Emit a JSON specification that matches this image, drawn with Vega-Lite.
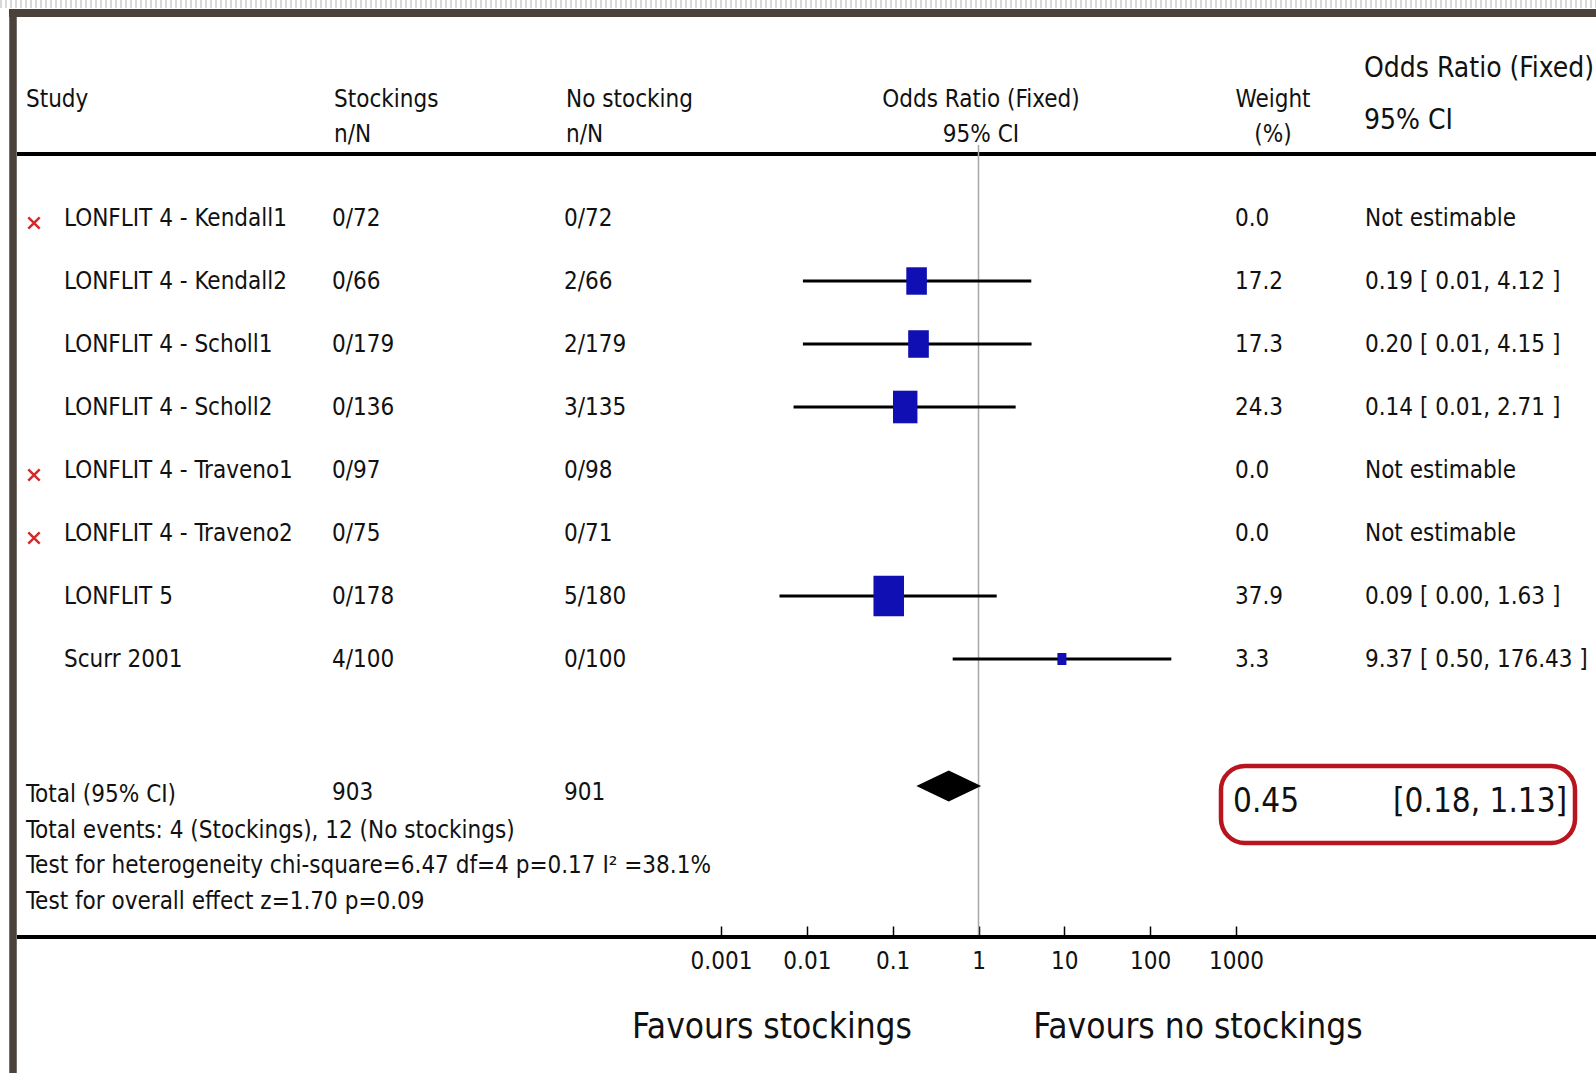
{
  "$schema": "https://vega.github.io/schema/vega-lite/v6.json",
  "width": 1596,
  "height": 1073,
  "autosize": "none",
  "padding": 0,
  "background": "white",
  "config": {
    "view": {"stroke": null},
    "text": {"font": "DejaVu Sans Condensed, DejaVu Sans, sans-serif", "fontSize": 24, "color": "#111111", "align": "left", "baseline": "middle"},
    "axis": {"labelFont": "DejaVu Sans Condensed, DejaVu Sans, sans-serif"}
  },
  "datasets": {
    "studies": [
      {"study": "LONFLIT 4 - Kendall1", "stock": "0/72", "nostock": "0/72", "w": 0.0, "ci": "Not estimable", "excluded": true},
      {"study": "LONFLIT 4 - Kendall2", "stock": "0/66", "nostock": "2/66", "w": 17.2, "ci": "0.19 [ 0.01, 4.12 ]", "or": 0.19, "lo": 0.009, "hi": 4.12, "excluded": false},
      {"study": "LONFLIT 4 - Scholl1", "stock": "0/179", "nostock": "2/179", "w": 17.3, "ci": "0.20 [ 0.01, 4.15 ]", "or": 0.20, "lo": 0.009, "hi": 4.15, "excluded": false},
      {"study": "LONFLIT 4 - Scholl2", "stock": "0/136", "nostock": "3/135", "w": 24.3, "ci": "0.14 [ 0.01, 2.71 ]", "or": 0.14, "lo": 0.007, "hi": 2.71, "excluded": false},
      {"study": "LONFLIT 4 - Traveno1", "stock": "0/97", "nostock": "0/98", "w": 0.0, "ci": "Not estimable", "excluded": true},
      {"study": "LONFLIT 4 - Traveno2", "stock": "0/75", "nostock": "0/71", "w": 0.0, "ci": "Not estimable", "excluded": true},
      {"study": "LONFLIT 5", "stock": "0/178", "nostock": "5/180", "w": 37.9, "ci": "0.09 [ 0.00, 1.63 ]", "or": 0.09, "lo": 0.0048, "hi": 1.63, "excluded": false},
      {"study": "Scurr 2001", "stock": "4/100", "nostock": "0/100", "w": 3.3, "ci": "9.37 [ 0.50, 176.43 ]", "or": 9.37, "lo": 0.50, "hi": 176.43, "excluded": false}
    ]
  },
  "resolve": {"scale": {"x": "independent", "y": "independent", "size": "independent"}},
  "layer": [
    {
      "data": {"values": [{"part": "top strip"}]},
      "mark": {"type": "rule", "color": "#d9d9d9", "strokeWidth": 8, "strokeDash": [2, 3]},
      "encoding": {
        "x": {"datum": "a", "type": "nominal", "scale": {"type": "point", "domain": ["a", "b"], "range": [0, 1596], "padding": 0}, "axis": null},
        "x2": {"datum": "b"},
        "y": {"datum": "s", "type": "nominal", "scale": {"type": "point", "range": [4, 4]}, "axis": null}
      }
    },
    {
      "data": {"values": [{"part": "top border"}]},
      "mark": {"type": "rule", "color": "#4a423c", "strokeWidth": 8},
      "encoding": {
        "x": {"datum": "a", "type": "nominal", "scale": {"type": "point", "domain": ["a", "b"], "range": [9, 1596], "padding": 0}, "axis": null},
        "x2": {"datum": "b"},
        "y": {"datum": "s", "type": "nominal", "scale": {"type": "point", "range": [13, 13]}, "axis": null}
      }
    },
    {
      "data": {"values": [{"part": "left border"}]},
      "mark": {"type": "rule", "color": "#4a423c", "strokeWidth": 7.5},
      "encoding": {
        "x": {"datum": "s", "type": "nominal", "scale": {"type": "point", "range": [13, 13]}, "axis": null},
        "y": {"datum": "a", "type": "nominal", "scale": {"type": "point", "domain": ["a", "b"], "range": [9, 1073], "padding": 0}, "axis": null},
        "y2": {"datum": "b"}
      }
    },
    {
      "data": {"values": [{"part": "header rule"}]},
      "mark": {"type": "rule", "color": "black", "strokeWidth": 4},
      "encoding": {
        "x": {"datum": "a", "type": "nominal", "scale": {"type": "point", "domain": ["a", "b"], "range": [17, 1596], "padding": 0}, "axis": null},
        "x2": {"datum": "b"},
        "y": {"datum": "s", "type": "nominal", "scale": {"type": "point", "range": [154, 154]}, "axis": null}
      }
    },
    {
      "data": {"values": [{"part": "bottom rule"}]},
      "mark": {"type": "rule", "color": "black", "strokeWidth": 4},
      "encoding": {
        "x": {"datum": "a", "type": "nominal", "scale": {"type": "point", "domain": ["a", "b"], "range": [17, 1596], "padding": 0}, "axis": null},
        "x2": {"datum": "b"},
        "y": {"datum": "s", "type": "nominal", "scale": {"type": "point", "range": [937, 937]}, "axis": null}
      }
    },
    {
      "data": {"values": [{"part": "no effect line"}]},
      "mark": {"type": "rule", "color": "#a8a8a8", "strokeWidth": 1.5},
      "encoding": {
        "x": {"datum": 1, "type": "quantitative", "scale": {"type": "log", "domain": [0.001, 1000], "range": [721, 1236], "nice": false},
          "axis": {"orient": "bottom", "offset": -137, "values": [0.001, 0.01, 0.1, 1, 10, 100, 1000], "format": "~g", "domain": false, "grid": false, "ticks": true, "tickSize": -10, "tickWidth": 1.5, "tickColor": "black", "labelFontSize": 24, "labelColor": "#111111", "labelPadding": 23, "labelFlush": false, "labelOverlap": false, "title": null}},
        "y": {"datum": "top", "type": "nominal", "scale": {"type": "point", "domain": ["top", "bottom"], "range": [145, 935], "padding": 0}, "axis": null},
        "y2": {"datum": "bottom"}
      }
    },
    {
      "data": {"name": "studies"},
      "transform": [{"filter": "isValid(datum.lo)"}],
      "mark": {"type": "rule", "color": "black", "strokeWidth": 3},
      "encoding": {
        "x": {"field": "lo", "type": "quantitative", "scale": {"type": "log", "domain": [0.001, 1000], "range": [721, 1236], "nice": false}, "axis": null},
        "x2": {"field": "hi"},
        "y": {"field": "study", "type": "nominal", "sort": null, "scale": {"type": "point", "domain": ["LONFLIT 4 - Kendall1", "LONFLIT 4 - Kendall2", "LONFLIT 4 - Scholl1", "LONFLIT 4 - Scholl2", "LONFLIT 4 - Traveno1", "LONFLIT 4 - Traveno2", "LONFLIT 5", "Scurr 2001"], "range": [218, 659], "padding": 0}, "axis": null}
      }
    },
    {
      "data": {"name": "studies"},
      "transform": [{"filter": "isValid(datum.or)"}],
      "mark": {"type": "point", "shape": "M-0.75,-1L0.75,-1L0.75,1L-0.75,1Z", "filled": true, "color": "#0f0fb4", "opacity": 1, "strokeWidth": 0},
      "encoding": {
        "x": {"field": "or", "type": "quantitative", "scale": {"type": "log", "domain": [0.001, 1000], "range": [721, 1236], "nice": false}, "axis": null},
        "y": {"field": "study", "type": "nominal", "sort": null, "scale": {"type": "point", "domain": ["LONFLIT 4 - Kendall1", "LONFLIT 4 - Kendall2", "LONFLIT 4 - Scholl1", "LONFLIT 4 - Scholl2", "LONFLIT 4 - Traveno1", "LONFLIT 4 - Traveno2", "LONFLIT 5", "Scurr 2001"], "range": [218, 659], "padding": 0}, "axis": null},
        "size": {"field": "w", "type": "quantitative", "scale": {"domain": [0, 40], "range": [0, 1750], "zero": true}, "legend": null}
      }
    },
    {
      "data": {"name": "studies"},
      "transform": [{"filter": "datum.excluded"}],
      "mark": {"type": "point", "shape": "M-1,-1L1,1M1,-1L-1,1", "filled": false, "color": "#d42a2a", "strokeWidth": 2.5, "size": 130, "opacity": 1, "yOffset": 5},
      "encoding": {
        "x": {"datum": "s", "type": "nominal", "scale": {"type": "point", "range": [34, 34]}, "axis": null},
        "y": {"field": "study", "type": "nominal", "sort": null, "scale": {"type": "point", "domain": ["LONFLIT 4 - Kendall1", "LONFLIT 4 - Kendall2", "LONFLIT 4 - Scholl1", "LONFLIT 4 - Scholl2", "LONFLIT 4 - Traveno1", "LONFLIT 4 - Traveno2", "LONFLIT 5", "Scurr 2001"], "range": [218, 659], "padding": 0}, "axis": null}
      }
    },
    {
      "data": {"name": "studies"},
      "mark": {"type": "text", "dy": 1},
      "encoding": {
        "x": {"datum": "s", "type": "nominal", "scale": {"type": "point", "range": [64, 64]}, "axis": null},
        "y": {"field": "study", "type": "nominal", "sort": null, "scale": {"type": "point", "domain": ["LONFLIT 4 - Kendall1", "LONFLIT 4 - Kendall2", "LONFLIT 4 - Scholl1", "LONFLIT 4 - Scholl2", "LONFLIT 4 - Traveno1", "LONFLIT 4 - Traveno2", "LONFLIT 5", "Scurr 2001"], "range": [218, 659], "padding": 0}, "axis": null},
        "text": {"field": "study"}
      }
    },
    {
      "data": {"name": "studies"},
      "transform": [{"fold": ["stock", "nostock"], "as": ["col", "val"]}],
      "mark": {"type": "text", "dy": 1},
      "encoding": {
        "x": {"field": "col", "type": "nominal", "scale": {"type": "point", "domain": ["stock", "nostock"], "range": [332, 564], "padding": 0}, "axis": null},
        "y": {"field": "study", "type": "nominal", "sort": null, "scale": {"type": "point", "domain": ["LONFLIT 4 - Kendall1", "LONFLIT 4 - Kendall2", "LONFLIT 4 - Scholl1", "LONFLIT 4 - Scholl2", "LONFLIT 4 - Traveno1", "LONFLIT 4 - Traveno2", "LONFLIT 5", "Scurr 2001"], "range": [218, 659], "padding": 0}, "axis": null},
        "text": {"field": "val"}
      }
    },
    {
      "data": {"name": "studies"},
      "mark": {"type": "text", "dy": 1},
      "encoding": {
        "x": {"datum": "s", "type": "nominal", "scale": {"type": "point", "range": [1235, 1235]}, "axis": null},
        "y": {"field": "study", "type": "nominal", "sort": null, "scale": {"type": "point", "domain": ["LONFLIT 4 - Kendall1", "LONFLIT 4 - Kendall2", "LONFLIT 4 - Scholl1", "LONFLIT 4 - Scholl2", "LONFLIT 4 - Traveno1", "LONFLIT 4 - Traveno2", "LONFLIT 5", "Scurr 2001"], "range": [218, 659], "padding": 0}, "axis": null},
        "text": {"field": "w", "type": "quantitative", "format": ".1f"}
      }
    },
    {
      "data": {"name": "studies"},
      "mark": {"type": "text", "dy": 1},
      "encoding": {
        "x": {"datum": "s", "type": "nominal", "scale": {"type": "point", "range": [1365, 1365]}, "axis": null},
        "y": {"field": "study", "type": "nominal", "sort": null, "scale": {"type": "point", "domain": ["LONFLIT 4 - Kendall1", "LONFLIT 4 - Kendall2", "LONFLIT 4 - Scholl1", "LONFLIT 4 - Scholl2", "LONFLIT 4 - Traveno1", "LONFLIT 4 - Traveno2", "LONFLIT 5", "Scurr 2001"], "range": [218, 659], "padding": 0}, "axis": null},
        "text": {"field": "ci"}
      }
    },
    {
      "data": {"values": [{"t": ["Study"]}]},
      "mark": {"type": "text", "baseline": "alphabetic"},
      "encoding": {
        "x": {"datum": "s", "type": "nominal", "scale": {"type": "point", "range": [26, 26]}, "axis": null},
        "y": {"datum": "s", "type": "nominal", "scale": {"type": "point", "range": [107, 107]}, "axis": null},
        "text": {"field": "t"}
      }
    },
    {
      "data": {"values": [{"col": "stock", "t": ["Stockings", "n/N"]}, {"col": "nostock", "t": ["No stocking", "n/N"]}]},
      "mark": {"type": "text", "baseline": "alphabetic", "lineHeight": 35},
      "encoding": {
        "x": {"field": "col", "type": "nominal", "scale": {"type": "point", "domain": ["stock", "nostock"], "range": [334, 566], "padding": 0}, "axis": null},
        "y": {"datum": "s", "type": "nominal", "scale": {"type": "point", "range": [107, 107]}, "axis": null},
        "text": {"field": "t"}
      }
    },
    {
      "data": {"values": [{"t": ["Odds Ratio (Fixed)", "95% CI"]}]},
      "mark": {"type": "text", "baseline": "alphabetic", "align": "center", "lineHeight": 35},
      "encoding": {
        "x": {"datum": "s", "type": "nominal", "scale": {"type": "point", "range": [981, 981]}, "axis": null},
        "y": {"datum": "s", "type": "nominal", "scale": {"type": "point", "range": [107, 107]}, "axis": null},
        "text": {"field": "t"}
      }
    },
    {
      "data": {"values": [{"t": ["Weight", "(%)"]}]},
      "mark": {"type": "text", "baseline": "alphabetic", "align": "center", "lineHeight": 35},
      "encoding": {
        "x": {"datum": "s", "type": "nominal", "scale": {"type": "point", "range": [1273, 1273]}, "axis": null},
        "y": {"datum": "s", "type": "nominal", "scale": {"type": "point", "range": [107, 107]}, "axis": null},
        "text": {"field": "t"}
      }
    },
    {
      "data": {"values": [{"t": ["Odds Ratio (Fixed)", "95% CI"]}]},
      "mark": {"type": "text", "baseline": "alphabetic", "fontSize": 28, "lineHeight": 52},
      "encoding": {
        "x": {"datum": "s", "type": "nominal", "scale": {"type": "point", "range": [1364, 1364]}, "axis": null},
        "y": {"datum": "s", "type": "nominal", "scale": {"type": "point", "range": [77, 77]}, "axis": null},
        "text": {"field": "t"}
      }
    },
    {
      "data": {"values": [{"t": ["Total (95% CI)", "Total events: 4 (Stockings), 12 (No stockings)", "Test for heterogeneity chi-square=6.47 df=4 p=0.17 I² =38.1%", "Test for overall effect z=1.70  p=0.09"]}]},
      "mark": {"type": "text", "baseline": "alphabetic", "lineHeight": 35.5},
      "encoding": {
        "x": {"datum": "s", "type": "nominal", "scale": {"type": "point", "range": [26, 26]}, "axis": null},
        "y": {"datum": "s", "type": "nominal", "scale": {"type": "point", "range": [802, 802]}, "axis": null},
        "text": {"field": "t"}
      }
    },
    {
      "data": {"values": [{"col": "stock", "n": 903}, {"col": "nostock", "n": 901}]},
      "mark": {"type": "text"},
      "encoding": {
        "x": {"field": "col", "type": "nominal", "scale": {"type": "point", "domain": ["stock", "nostock"], "range": [332, 564], "padding": 0}, "axis": null},
        "y": {"datum": "s", "type": "nominal", "scale": {"type": "point", "range": [793, 793]}, "axis": null},
        "text": {"field": "n", "type": "quantitative"}
      }
    },
    {
      "data": {"values": [{"label": "Total (95% CI)", "or": 0.45, "lo": 0.18, "hi": 1.13}]},
      "mark": {"type": "point", "shape": "M-1,0L0,-0.48L1,0L0,0.48Z", "filled": true, "color": "black", "opacity": 1, "size": 4200},
      "encoding": {
        "x": {"field": "or", "type": "quantitative", "scale": {"type": "log", "domain": [0.001, 1000], "range": [721, 1236], "nice": false}, "axis": null},
        "y": {"datum": "s", "type": "nominal", "scale": {"type": "point", "range": [786, 786]}, "axis": null}
      }
    },
    {
      "data": {"values": [{"part": "highlight box"}]},
      "mark": {"type": "rect", "filled": false, "fill": null, "stroke": "#b8151e", "strokeWidth": 4.5, "cornerRadius": 24},
      "encoding": {
        "x": {"datum": "l", "type": "nominal", "scale": {"type": "point", "domain": ["l", "r"], "range": [1221, 1575], "padding": 0}, "axis": null},
        "x2": {"datum": "r"},
        "y": {"datum": "t", "type": "nominal", "scale": {"type": "point", "domain": ["t", "b"], "range": [766, 843], "padding": 0}, "axis": null},
        "y2": {"datum": "b"}
      }
    },
    {
      "data": {"values": [{"k": "or", "t": "0.45"}, {"k": "ci", "t": "[0.18, 1.13]"}]},
      "mark": {"type": "text", "baseline": "alphabetic", "fontSize": 33},
      "encoding": {
        "x": {"field": "k", "type": "nominal", "scale": {"type": "point", "domain": ["or", "ci"], "range": [1233, 1393], "padding": 0}, "axis": null},
        "y": {"datum": "s", "type": "nominal", "scale": {"type": "point", "range": [812, 812]}, "axis": null},
        "text": {"field": "t"}
      }
    },
    {
      "data": {"values": [{"k": "a", "t": "Favours stockings"}, {"k": "b", "t": "Favours no stockings"}]},
      "mark": {"type": "text", "baseline": "alphabetic", "align": "center", "fontSize": 35},
      "encoding": {
        "x": {"field": "k", "type": "nominal", "scale": {"type": "point", "domain": ["a", "b"], "range": [772, 1198], "padding": 0}, "axis": null},
        "y": {"datum": "s", "type": "nominal", "scale": {"type": "point", "range": [1038, 1038]}, "axis": null},
        "text": {"field": "t"}
      }
    }
  ]
}
